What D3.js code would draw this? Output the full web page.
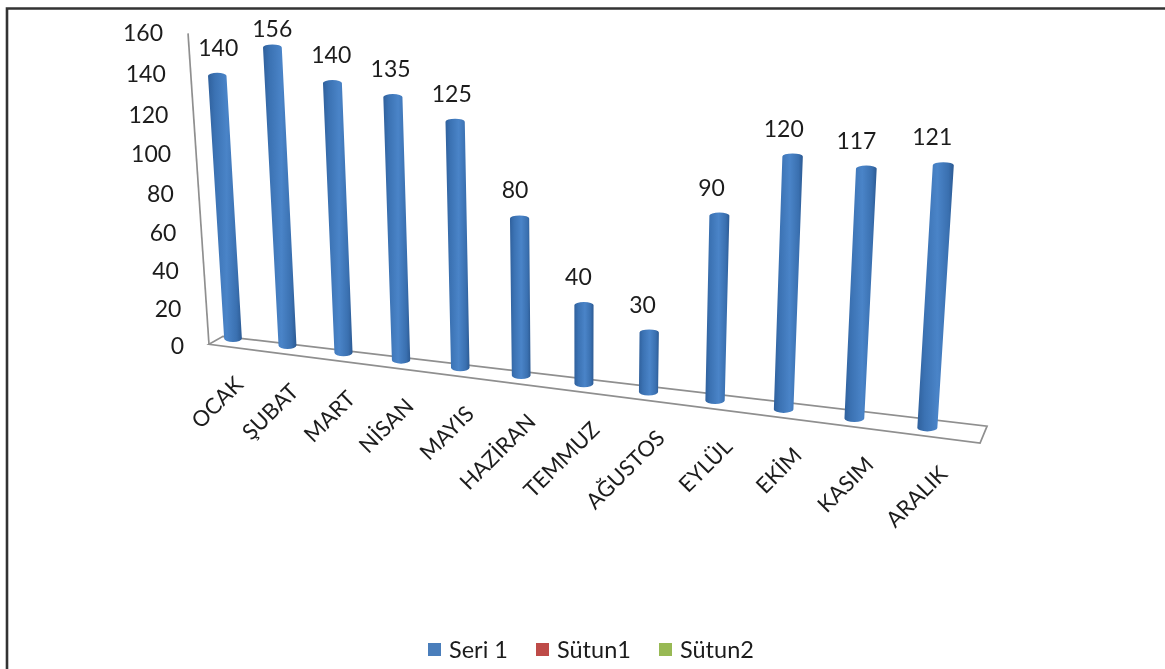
<!DOCTYPE html>
<html><head><meta charset="utf-8">
<script src="https://cdn.jsdelivr.net/npm/d3@7"></script>
<style>html,body{margin:0;padding:0;background:#fff}svg{display:block;filter:blur(.45px)}text{font-family:Lato,"Open Sans",sans-serif;fill:#1c1c1c}</style>
</head><body><svg id="c" width="1165" height="669"></svg>
<script>
const categories=["OCAK","ŞUBAT","MART","NİSAN","MAYIS","HAZİRAN","TEMMUZ","AĞUSTOS","EYLÜL","EKİM","KASIM","ARALIK"];
const seri1=[140,156,140,135,125,80,40,30,90,120,117,121];
const yTicks=[0,20,40,60,80,100,120,140,160];
const legendNames=["Seri 1","Sütun1","Sütun2"];
const legendColors=["#4a7ebb","#be4b48","#98b954"];

const svg=d3.select("#c");
// perspective projection of (category position, value) on to the page
const g=.0135,h=-.00031;
const A=233,B=50.6,C=-.18,D=338.5,E=2.35,F=-1.9;
const px=(u,v)=>(A+B*u+C*v)/(1-g*u+h*v);
const py=(u,v)=>(D+E*u+F*v)/(1-g*u+h*v);
const uL=-.318,uR=11.75;
const halfBar=d3.scaleLinear([0,11],[.165,.135]);
const depthX=d3.scaleLinear([uL,uR],[7,3.5]);
const backY=d3.scaleLinear([uL,uR],[0,9]);
const frontY=8;
const axisDX=d3.scaleLinear([0,160],[-7,-9]);
const axisDY=d3.scaleLinear([0,160],[8,-2]);
const tickOff=d3.scaleLinear([0,160],[2,0]);
const labelDX=d3.scaleLinear([0,11],[6,16]);
const valueDX=d3.scaleLinear([0,11],[1,-11]);

const defs=svg.append("defs");
const grad=defs.append("linearGradient").attr("id","cyl");
[[0,"#2f609c"],[.2,"#3b72b3"],[.55,"#4a84c8"],[.85,"#3a70b0"],[1,"#2c5a93"]].forEach(s=>grad.append("stop").attr("offset",s[0]).attr("stop-color",s[1]));

// chart frame: top and left edges are visible
const frame=d3.line()([[7,680],[7,8.5],[1170,8.5]]);
svg.append("path").attr("d",frame).attr("fill","none").attr("stroke","#333").attr("stroke-width",2.6);

// floor and value axis
const line=d3.line();
const front=u=>[px(u,0)-depthX(u),py(u,0)+frontY];
const back=u=>[px(u,0)+depthX(u),py(u,0)-backY(u)];
const wall="#8f8f8f";
svg.append("path").attr("d",line([front(uL),back(uL),back(uR),front(uR)])+"Z").attr("fill","#fff").attr("stroke",wall).attr("stroke-width",1.7);
svg.append("path").attr("d",line([front(uL),[px(uL,160)+axisDX(160),py(uL,160)+axisDY(160)]])).attr("fill","none").attr("stroke",wall).attr("stroke-width",1.7);

// value tick labels
svg.selectAll(".yt").data(yTicks).join("text").attr("class","yt")
 .attr("x",d=>px(uL,d)+axisDX(d)-25).attr("y",d=>py(uL,d)+axisDY(d)+tickOff(d)).attr("dy",".35em").attr("text-anchor","end").attr("font-size",23).text(d=>d);

// cylinders
const cyl=(d,i)=>{
 const hb=halfBar(i);
 const xl0=px(i-hb,0),xr0=px(i+hb,0),y0=py(i,0);
 const xl1=px(i-hb,d),xr1=px(i+hb,d),y1=py(i,d);
 const rb=(xr0-xl0)/2,rt=(xr1-xl1)/2;
 return `M${xl1},${y1}A${rt},3 0 0 1 ${xr1},${y1}L${xr0},${y0}A${rb},3.5 0 0 1 ${xl0},${y0}Z`;
};
svg.selectAll(".bar").data(seri1).join("path").attr("class","bar").attr("d",cyl).attr("fill","url(#cyl)");

// value labels
svg.selectAll(".vl").data(seri1).join("text").attr("class","vl")
 .attr("x",(d,i)=>px(i,d)+valueDX(i)).attr("y",(d,i)=>Math.max(29,py(i,d)-28)).attr("dy",".35em").attr("text-anchor","middle").attr("font-size",23).text(d=>d);

// category labels
svg.selectAll(".cl").data(categories).join("text").attr("class","cl")
 .attr("transform",(d,i)=>`translate(${px(i,0)+labelDX(i)},${py(i,0)+42}) rotate(-45)`)
 .attr("text-anchor","end").attr("dy",".35em").attr("font-size",22).text(d=>d);

// legend
const legendX=[428,536,659];
legendNames.forEach((n,i)=>{
 svg.append("rect").attr("x",legendX[i]).attr("y",643).attr("width",13).attr("height",13).attr("fill",legendColors[i]);
 svg.append("text").attr("x",legendX[i]+21).attr("y",650).attr("dy",".35em").attr("font-size",23.5).text(n);
});
</script></body></html>
